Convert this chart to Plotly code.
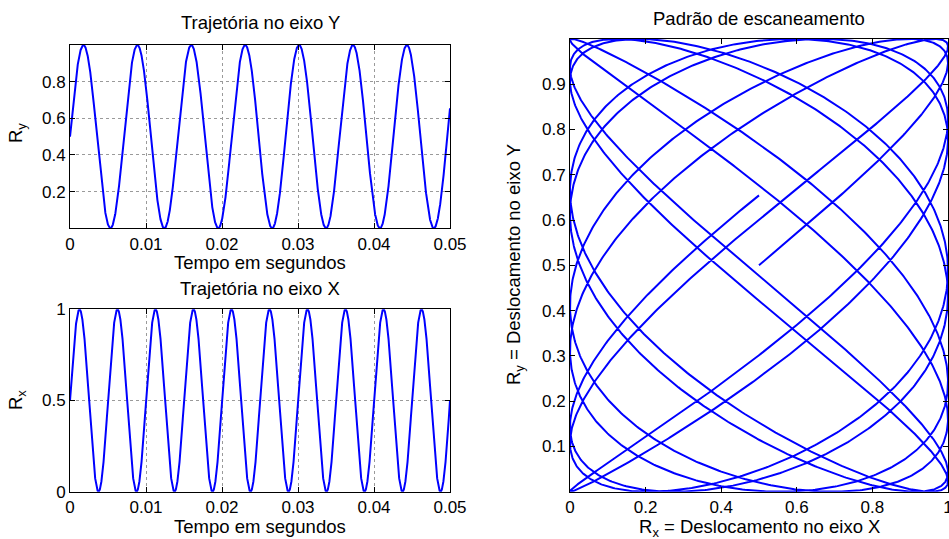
import numpy as np
import plotly.graph_objects as go

# Scan signal: two sinusoids in [0, 1] driving the X and Y displacement
t_end_s = 0.05
sample_rate_hz = 100000
freq_x_hz = 200.0
freq_y_hz = 141.0
offset = 0.5
amplitude = 0.5

time_ticks = [0, 0.01, 0.02, 0.03, 0.04, 0.05]
time_tick_text = ["0", "0.01", "0.02", "0.03", "0.04", "0.05"]
ry_ticks = [0.2, 0.4, 0.6, 0.8]
ry_tick_text = ["0.2", "0.4", "0.6", "0.8"]
rx_ticks = [0, 0.5, 1]
rx_tick_text = ["0", "0.5", "1"]
pattern_x_ticks = [0, 0.2, 0.4, 0.6, 0.8, 1]
pattern_x_text = ["0", "0.2", "0.4", "0.6", "0.8", "1"]
pattern_y_ticks = [0.1, 0.2, 0.3, 0.4, 0.5, 0.6, 0.7, 0.8, 0.9]
pattern_y_text = ["0.1", "0.2", "0.3", "0.4", "0.5", "0.6", "0.7", "0.8", "0.9"]

t = np.linspace(0, t_end_s, int(round(t_end_s * sample_rate_hz)) + 1)
rx = offset + amplitude * np.sin(2 * np.pi * freq_x_hz * t)
ry = offset + amplitude * np.sin(2 * np.pi * freq_y_hz * t)

W, H = 949, 539
FONT = "Liberation Sans, Arial, Helvetica, sans-serif"
BLUE = "#0000ff"


def fx(p):
    return p / W


def fy(p):
    return 1 - p / H


axis_style = dict(
    showline=True, linecolor="black", linewidth=1, mirror="ticks",
    ticks="inside", ticklen=5, tickcolor="black", tickwidth=1,
    zeroline=False, automargin=False, ticklabeloverflow="allow",
    tickfont=dict(family=FONT, size=17, color="black"),
)
grid_style = dict(showgrid=True, gridcolor="#9a9a9a", griddash="dot", gridwidth=1)

fig = go.Figure()
line = dict(color=BLUE, width=2)
fig.add_trace(go.Scatter(x=t, y=ry, mode="lines", line=line, xaxis="x", yaxis="y"))
fig.add_trace(go.Scatter(x=t, y=rx, mode="lines", line=line, xaxis="x2", yaxis="y2"))
fig.add_trace(go.Scatter(x=rx, y=ry, mode="lines", line=line, xaxis="x3", yaxis="y3"))

left_dom = [fx(70), fx(450)]
fig.update_layout(
    width=W, height=H, margin=dict(l=0, r=0, t=0, b=0, autoexpand=False),
    paper_bgcolor="white", plot_bgcolor="white", showlegend=False,
    xaxis=dict(domain=left_dom, anchor="y", range=[0, 0.05],
               tickvals=time_ticks, ticktext=time_tick_text, **axis_style, **grid_style),
    yaxis=dict(domain=[fy(228.3), fy(45)], anchor="x", range=[0, 1],
               tickvals=ry_ticks, ticktext=ry_tick_text, **axis_style, **grid_style),
    xaxis2=dict(domain=left_dom, anchor="y2", range=[0, 0.05],
                tickvals=time_ticks, ticktext=time_tick_text, **axis_style, **grid_style),
    yaxis2=dict(domain=[fy(491.7), fy(309.3)], anchor="x2", range=[0, 1],
                tickvals=rx_ticks, ticktext=rx_tick_text, **axis_style, **grid_style),
    xaxis3=dict(domain=[fx(570), fx(948)], anchor="y3", range=[0, 1],
                tickvals=pattern_x_ticks, ticktext=pattern_x_text, showgrid=False, **axis_style),
    yaxis3=dict(domain=[fy(491.7), fy(39)], anchor="x3", range=[0, 1],
                tickvals=pattern_y_ticks, ticktext=pattern_y_text, showgrid=False, **axis_style),
)

label_font = dict(family=FONT, size=18.5, color="black")
texts = [
    ("Trajetória no eixo Y", 260, 23, 0),
    ("Tempo em segundos", 260, 262, 0),
    ("R<sub>y</sub>", 17, 133, -90),
    ("Trajetória no eixo X", 260, 288, 0),
    ("Tempo em segundos", 260, 526, 0),
    ("R<sub>x</sub>", 17, 400, -90),
    ("Padrão de escaneamento", 759, 18, 0),
    ("R<sub>x</sub> = Deslocamento no eixo X", 759, 528, 0),
    ("R<sub>y</sub> = Deslocamento no eixo Y", 515, 265, -90),
]
for txt, x, y, ang in texts:
    fig.add_annotation(text=txt, x=fx(x), y=fy(y), xref="paper", yref="paper",
                       showarrow=False, textangle=ang, font=label_font,
                       xanchor="center", yanchor="middle")

fig.write_html("out.html")
